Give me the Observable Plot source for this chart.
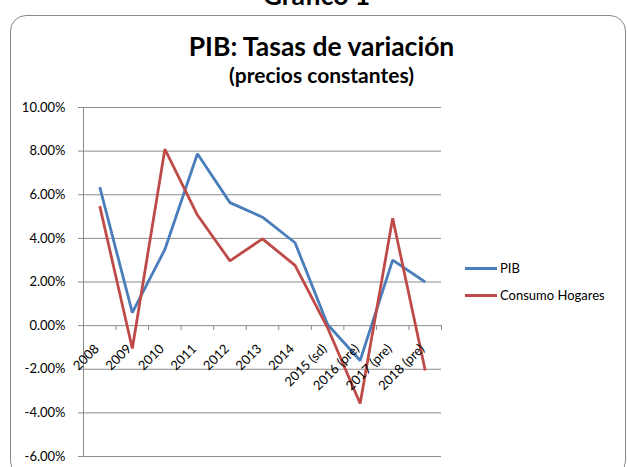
<!DOCTYPE html>
<html><head><meta charset="utf-8">
<script src="https://cdn.jsdelivr.net/npm/d3@7"></script>
<script src="https://cdn.jsdelivr.net/npm/@observablehq/plot@0.6"></script>
<style>
html,body{margin:0;padding:0;background:#fff}
body{width:627px;height:467px;overflow:hidden;position:relative;font-family:Lato,"Open Sans",sans-serif;color:#000}
#frame{position:absolute;left:10px;top:15px;width:616px;height:462px;border:1.5px solid #8a8a8a;border-radius:16px;box-sizing:border-box}
#top{position:absolute;left:3px;width:627px;top:-18px;text-align:center;font-weight:bold;font-size:26.5px;line-height:26.5px}
#title{position:absolute;left:8px;width:627px;top:31px;text-align:center;font-weight:bold;font-size:26.5px;line-height:30px}
#sub{position:absolute;left:8px;width:627px;top:63px;text-align:center;font-weight:bold;font-size:21px;line-height:24px}
#chart{position:absolute;left:0;top:0}
#legend{position:absolute;left:465px;top:259px;font-size:13px}
#legend .row{display:flex;align-items:center;height:18px;margin-bottom:9px}
#legend .sw{width:32px;height:3px;margin-right:3px}
</style>
</head><body>
<div id="frame"></div>
<div id="top">Gráfico 1</div>
<div id="title">PIB: Tasas de variación</div>
<div id="sub">(precios constantes)</div>
<div id="chart"></div>
<div id="legend"></div>
<script>
const categories = ["2008","2009","2010","2011","2012","2013","2014","2015 (sd)","2016 (pre)","2017 (pre)","2018 (pre)"];
const pib = [6.35, 0.6, 3.49, 7.88, 5.64, 4.97, 3.8, 0.05, -1.6, 3.0, 2.0];
const consumo = [5.48, -1.05, 8.09, 5.07, 2.97, 3.98, 2.76, -0.1, -3.57, 4.92, -2.06];
const seriesNames = ["PIB", "Consumo Hogares"];
const seriesColors = ["#4a7ebb", "#be4b48"];
const yTicks = [-6, -4, -2, 0, 2, 4, 6, 8, 10];

const rows = [];
categories.forEach((c, i) => {
  rows.push({i, cat: c, series: seriesNames[0], v: pib[i]});
  rows.push({i, cat: c, series: seriesNames[1], v: consumo[i]});
});
const bounds = categories.map((c, i) => i + 0.5);
const fontFamily = 'Lato, "Open Sans", sans-serif';

const chart = Plot.plot({
  width: 627, height: 467,
  marginLeft: 83, marginRight: 186, marginTop: 107, marginBottom: 11,
  style: {background: "transparent", fontFamily, fontSize: "13px", color: "#000", overflow: "visible"},
  x: {type: "linear", domain: [-0.5, categories.length - 0.5], axis: null},
  y: {domain: [-6, 10], axis: null},
  color: {domain: seriesNames, range: seriesColors},
  marks: [
    Plot.ruleY(yTicks, {stroke: "#8c8c8c", strokeWidth: 1, strokeOpacity: 1}),
    Plot.axisY(yTicks, {label: null, tickSize: 5, tickPadding: 13, stroke: "#8c8c8c", fill: "#000", fontSize: 13, tickFormat: d => d.toFixed(2) + "%"}),
    Plot.ruleX([-0.5], {stroke: "#8c8c8c", strokeWidth: 1}),
    Plot.ruleX(bounds, {x: d => d, y1: 0, y2: 0, insetBottom: -5, stroke: "#8c8c8c", strokeWidth: 1}),
    Plot.line(rows, {x: "i", y: "v", z: "series", stroke: "series", strokeWidth: 2.8, strokeLinejoin: "miter", strokeLinecap: "butt"}),
    Plot.text(categories, {x: (d, i) => i, y: () => 0, text: d => d, rotate: -45, textAnchor: "end", dx: -3, dy: 21, fontSize: 13, fill: "#000"})
  ]
});
document.getElementById("chart").appendChild(chart);

const legend = document.getElementById("legend");
seriesNames.forEach((s, k) => {
  const r = document.createElement("div");
  r.className = "row";
  r.innerHTML = `<span class="sw" style="background:${seriesColors[k]}"></span><span>${s}</span>`;
  legend.appendChild(r);
});
</script>
</body></html>
